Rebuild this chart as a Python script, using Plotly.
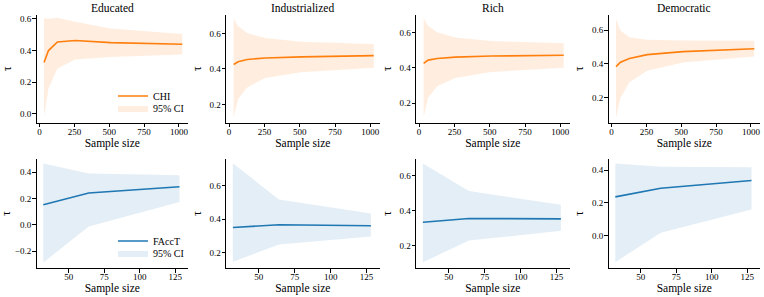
import plotly.graph_objects as go

W, H = 764, 297

titles = ["Educated", "Industrialized", "Rich", "Democratic"]

# Top row: CHI
x_chi = [32, 64, 128, 256, 512, 1024]
chi_mean = [
    [0.324, 0.400, 0.454, 0.464, 0.450, 0.440],
    [0.425, 0.440, 0.453, 0.462, 0.468, 0.475],
    [0.425, 0.444, 0.453, 0.461, 0.467, 0.472],
    [0.384, 0.410, 0.432, 0.455, 0.473, 0.490],
]
chi_upper = [
    [0.604, 0.602, 0.608, 0.583, 0.540, 0.505],
    [0.683, 0.640, 0.602, 0.574, 0.553, 0.541],
    [0.682, 0.638, 0.602, 0.573, 0.552, 0.539],
    [0.667, 0.598, 0.558, 0.543, 0.539, 0.537],
]
chi_lower = [
    [-0.020, 0.160, 0.286, 0.343, 0.360, 0.375],
    [0.126, 0.230, 0.296, 0.349, 0.381, 0.406],
    [0.120, 0.230, 0.295, 0.343, 0.377, 0.400],
    [0.083, 0.198, 0.291, 0.360, 0.408, 0.444],
]

# Bottom row: FAccT
x_facct = [32, 64, 128]
facct_mean = [
    [0.153, 0.242, 0.290],
    [0.350, 0.366, 0.360],
    [0.335, 0.356, 0.354],
    [0.236, 0.289, 0.336],
]
facct_upper = [
    [0.466, 0.390, 0.377],
    [0.734, 0.518, 0.434],
    [0.669, 0.512, 0.434],
    [0.441, 0.420, 0.418],
]
facct_lower = [
    [-0.285, -0.013, 0.173],
    [0.144, 0.248, 0.296],
    [0.107, 0.230, 0.286],
    [-0.164, 0.016, 0.158],
]

top_ticks_x = [0, 250, 500, 750, 1000]
bot_ticks_x = [50, 75, 100, 125]
top_ticks_y = [[0.0, 0.2, 0.4, 0.6], [0.2, 0.4, 0.6], [0.2, 0.4, 0.6], [0.2, 0.4, 0.6]]
bot_ticks_y = [[-0.2, 0.0, 0.2, 0.4], [0.2, 0.4, 0.6], [0.2, 0.4, 0.6], [0.0, 0.2, 0.4]]
top_yrange = [[-0.055, 0.625], [0.098, 0.704], [0.09, 0.70], [0.053, 0.69]]
bot_yrange = [[-0.327, 0.50], [0.107, 0.76], [0.074, 0.695], [-0.20, 0.468]]

ORANGE = "#ff7f0e"
BLUE = "#1f77b4"
FONT = "Liberation Serif"

col_px = [(36.5, 188), (226, 379.5), (416, 569.5), (608.5, 760)]
top_py = (15, 122.5)
bot_py = (159, 268)

fig = go.Figure()

def add_panel(idx, xs, mean, up, lo, color, fillc, name, xr, yr, xt, yt, py, leg_line, leg_fill, show_leg):
    n = idx + 1
    xa = "x" if n == 1 else f"x{n}"
    ya = "y" if n == 1 else f"y{n}"
    fig.add_trace(go.Scatter(
        x=xs + xs[::-1], y=up + lo[::-1], fill="toself", fillcolor=fillc,
        line=dict(width=0), mode="lines", name="95% CI", xaxis=xa, yaxis=ya,
        showlegend=show_leg, legend=leg_fill, hoverinfo="skip"))
    fig.add_trace(go.Scatter(
        x=xs, y=mean, mode="lines", line=dict(color=color, width=1.6),
        name=name, xaxis=xa, yaxis=ya, showlegend=show_leg, legend=leg_line))
    c = col_px[idx % 4]
    xkey = "xaxis" if n == 1 else f"xaxis{n}"
    ykey = "yaxis" if n == 1 else f"yaxis{n}"
    common = dict(showline=True, linecolor="black", linewidth=1, ticks="outside",
                  ticklen=3.5, tickwidth=1, tickcolor="black", showgrid=False,
                  zeroline=False, automargin=False,
                  tickfont=dict(family=FONT, size=9, color="black"))
    fig.update_layout(**{
        xkey: dict(domain=[c[0] / W, c[1] / W], anchor=ya, range=xr, tickvals=xt,
                   ticklabelstandoff=-3,
                   title=dict(text="Sample size", font=dict(family=FONT, size=11.5, color="black"), standoff=0),
                   **common),
        ykey: dict(domain=[1 - py[1] / H, 1 - py[0] / H], anchor=xa, range=yr, tickvals=yt,
                   tickformat=".1f", ticklabelstandoff=-1,
                   title=dict(text="τ", font=dict(family=FONT, size=11.5, color="black"), standoff=5),
                   **common),
    })

for i in range(4):
    add_panel(i, x_chi, chi_mean[i], chi_upper[i], chi_lower[i], ORANGE,
              "rgba(255,127,14,0.13)", "CHI", [-22, 1065], top_yrange[i],
              top_ticks_x, top_ticks_y[i], top_py, "legend", "legend2", i == 0)
for i in range(4):
    add_panel(i + 4, x_facct, facct_mean[i], facct_upper[i], facct_lower[i], BLUE,
              "rgba(31,119,180,0.12)", "FAccT", [27.2, 134], bot_yrange[i],
              bot_ticks_x, bot_ticks_y[i], bot_py, "legend3", "legend4", i == 0)

for i, t in enumerate(titles):
    c = col_px[i]
    fig.add_annotation(text=t, x=(c[0] + c[1]) / 2 / W, y=1 - 7.5 / H, xref="paper", yref="paper",
                       showarrow=False, xanchor="center", yanchor="middle",
                       font=dict(family=FONT, size=11.5, color="black"))

leg = dict(bgcolor="rgba(0,0,0,0)", font=dict(family=FONT, size=10, color="black"),
           xanchor="left", yanchor="middle", tracegroupgap=0, itemwidth=30)
LX = 113 / W
fig.update_layout(
    width=W, height=H, margin=dict(l=0, r=0, t=0, b=0),
    paper_bgcolor="white", plot_bgcolor="white",
    font=dict(family=FONT),
    legend=dict(x=LX, y=1 - 96 / H, **leg),
    legend2=dict(x=LX, y=1 - 108 / H, **leg),
    legend3=dict(x=LX, y=1 - 241 / H, **leg),
    legend4=dict(x=LX, y=1 - 253 / H, **leg),
)

fig.write_html("out.html", config={"displayModeBar": False},
               post_script="document.body.style.margin='0';document.body.style.overflow='hidden';")
